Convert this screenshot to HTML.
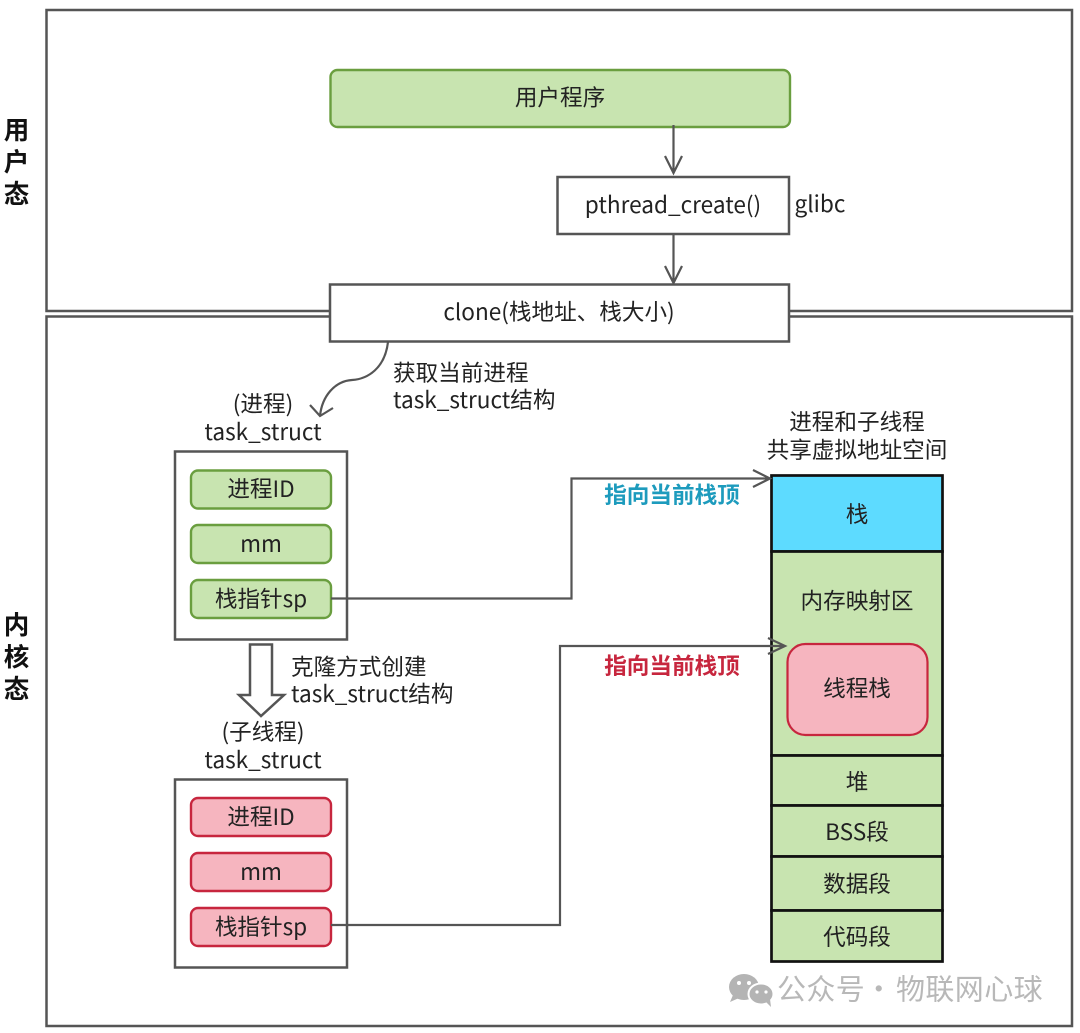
<!DOCTYPE html>
<html><head><meta charset="utf-8"><style>
html,body{margin:0;padding:0;background:#fff}
svg{display:block}
text{font-family:"Noto Sans CJK SC","Liberation Sans",sans-serif;font-size:22.6px;fill:#222;text-anchor:middle}
.l{text-anchor:start}
.b{font-weight:700;fill:#111;font-size:25.5px}
.t{font-weight:700;font-size:22.6px}
.box{fill:#fff;stroke:#555;stroke-width:2.5}
.g{fill:#c8e4b0;stroke:#6a9e3f;stroke-width:2.4}
.r{fill:#f6b5bf;stroke:#c7263e;stroke-width:2.4}
.seg{fill:#c8e4b0;stroke:#111;stroke-width:2.7}
.ln{fill:none;stroke:#555;stroke-width:2.2}
.wm{fill:#b8b8b8;font-size:29px;letter-spacing:.4px}
</style></head><body>
<svg width="1080" height="1033" viewBox="0 0 1080 1033" xmlns="http://www.w3.org/2000/svg">
<rect class="box" x="46.5" y="10" width="1025.5" height="301"/>
<rect class="box" x="46.5" y="316.5" width="1025.5" height="709.5"/>
<text class="b" x="16.500" y="139">用</text>
<text class="b" x="16.500" y="171">户</text>
<text class="b" x="16.500" y="203">态</text>
<text class="b" x="16.500" y="634">内</text>
<text class="b" x="16.500" y="666">核</text>
<text class="b" x="16.500" y="698">态</text>

<rect class="g" x="330.5" y="70" width="459.5" height="57" rx="7"/>
<text x="560" y="105.500">用户程序</text>
<path class="ln" d="M673.5 125V173M665 156l8.5 17 8.5-17"/>
<rect class="box" x="557.5" y="177" width="231.5" height="57"/>
<text x="673" y="213">pthread_create()</text>
<text class="l" x="794.500" y="212">glibc</text>
<path class="ln" d="M673.5 234V283M665 266l8.5 17 8.5-17"/>
<rect class="box" x="330" y="284.500" width="459" height="57"/>
<text x="559" y="320">clone(栈地址、栈大小)</text>

<path class="ln" d="M388 342C385 368 368 379 352 380C335 381 322 396 320 416M310 405l10 11 13-8"/>
<text class="l" x="393" y="381">获取当前进程</text>
<text class="l" x="393" y="408">task_struct结构</text>

<text x="263" y="412">(进程)</text>
<text x="263" y="440">task_struct</text>
<rect class="box" x="175" y="451.500" width="172" height="188"/>
<rect class="g" x="191" y="470.500" width="140" height="38" rx="7"/>
<text x="261" y="497">进程ID</text>
<rect class="g" x="191" y="525" width="140" height="38" rx="7"/>
<text x="261" y="552">mm</text>
<rect class="g" x="191" y="580" width="140" height="38" rx="7"/>
<text x="261" y="607">栈指针sp</text>

<path d="M250 644.500H272V695H284L261 716 239 695H250Z" fill="#fff" stroke="#555" stroke-width="2.500"/>
<text class="l" x="291" y="675">克隆方式创建</text>
<text class="l" x="291" y="702">task_struct结构</text>

<text x="263" y="740">(子线程)</text>
<text x="263" y="768">task_struct</text>
<rect class="box" x="175" y="779.500" width="172" height="188"/>
<rect class="r" x="191" y="798" width="140" height="38" rx="7"/>
<text x="261" y="825">进程ID</text>
<rect class="r" x="191" y="853" width="140" height="38" rx="7"/>
<text x="261" y="880">mm</text>
<rect class="r" x="191" y="908" width="140" height="38" rx="7"/>
<text x="261" y="935">栈指针sp</text>

<text x="857" y="430">进程和子线程</text>
<text x="857" y="458">共享虚拟地址空间</text>

<rect x="771.500" y="475.500" width="171" height="76" fill="#5ddbff" stroke="#111" stroke-width="2.700"/>
<text x="857" y="522.500">栈</text>
<rect class="seg" x="771.500" y="551.500" width="171" height="204"/>
<text x="857" y="609">内存映射区</text>
<rect x="787.500" y="644" width="140" height="91" rx="18" fill="#f6b5bf" stroke="#c7263e" stroke-width="2.200"/>
<text x="857" y="696.500">线程栈</text>
<rect class="seg" x="771.500" y="755.500" width="171" height="50"/>
<text x="857" y="790">堆</text>
<rect class="seg" x="771.500" y="805.500" width="171" height="51"/>
<text x="857" y="840">BSS段</text>
<rect class="seg" x="771.500" y="856.500" width="171" height="54"/>
<text x="857" y="892">数据段</text>
<rect class="seg" x="771.500" y="910.500" width="171" height="51"/>
<text x="857" y="945">代码段</text>

<path class="ln" d="M331 598.500H571.500V478.500H770M753 470l17 8.500-17 8.500"/>
<path class="ln" d="M331 925H560V646H785M768 638l17 8-17 8"/>
<text class="t" x="672" y="503" style="fill:#1d9bbd">指向当前栈顶</text>
<text class="t" x="672" y="674" style="fill:#c7263e">指向当前栈顶</text>

<g fill="#b4b4b4">
<ellipse cx="744" cy="987" rx="15" ry="13"/>
<path d="M733 995l-3 7 9-4z"/>
<ellipse cx="761" cy="994" rx="12.500" ry="10.500" stroke="#fff" stroke-width="2"/>
<path d="M766 1002l5 5-1-8z"/>
<circle cx="739" cy="983" r="2" fill="#fff"/><circle cx="749" cy="983" r="2" fill="#fff"/>
<circle cx="757" cy="992" r="1.600" fill="#fff"/><circle cx="766" cy="992" r="1.600" fill="#fff"/>
</g>
<text class="wm l" x="777" y="999.500">公众号</text>
<text class="wm" x="879" y="999.500">·</text>
<text class="wm l" x="896" y="999.500">物联网心球</text>
</svg>
</body></html>
